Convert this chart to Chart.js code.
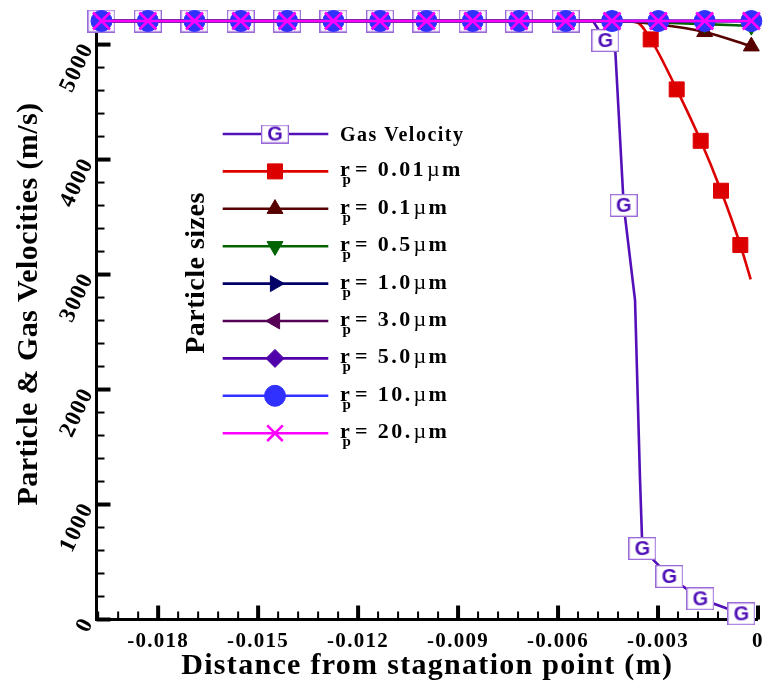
<!DOCTYPE html>
<html><head><meta charset="utf-8">
<script src="https://cdn.jsdelivr.net/npm/chart.js@4.4.0/dist/chart.umd.min.js"></script>
<style>html,body{margin:0;padding:0;background:#fff;}#wrap{width:763px;height:684px;position:relative;}</style>
</head><body><div id="wrap"><canvas id="c" width="763" height="684"></canvas></div>
<script>
// ---------- DATA ----------
const xTickValues = [-0.018, -0.015, -0.012, -0.009, -0.006, -0.003, 0];
const xTickLabels = ['-0.018', '-0.015', '-0.012', '-0.009', '-0.006', '-0.003', '0'];
const yTickValues = [0, 1000, 2000, 3000, 4000, 5000];
const yTickLabels = ['0', '1000', '2000', '3000', '4000', '5000'];
const sizeLabels = ['0.01', '0.1', '0.5', '1.0', '3.0', '5.0', '10.', '20.'];
const xTitle = 'Distance from stagnation point (m)';
const yTitle = 'Particle & Gas Velocities (m/s)';
const legendTitle = 'Particle sizes';

const gridX = [-0.01970, -0.01831, -0.01691, -0.01552, -0.01413, -0.01274, -0.01134, -0.00995,
               -0.00856, -0.00717, -0.00577, -0.00438, -0.00299, -0.00160, -0.00020];

const gasX = [-0.01970, -0.01831, -0.01691, -0.01552, -0.01413, -0.01274, -0.01134, -0.00995,
              -0.00856, -0.00717, -0.00577, -0.00495, -0.00458, -0.00428, -0.00403, -0.00369,
              -0.00354, -0.00347, -0.00266, -0.00173, -0.00050];
const gasY = [5205, 5205, 5205, 5205, 5205, 5205, 5205, 5205, 5205, 5205, 5205, 5205, 5035, 4935,
              3602, 2778, 1213, 617, 374, 180, 50];

const r001X = [-0.01970, -0.01831, -0.01691, -0.01552, -0.01413, -0.01274, -0.01134, -0.00995,
               -0.00856, -0.00717, -0.00577, -0.00438, -0.00366, -0.00322, -0.00244, -0.00172,
               -0.00111, -0.00053, -0.00022];
const r001Y = [5205, 5205, 5205, 5205, 5205, 5205, 5205, 5205, 5205, 5205, 5205, 5205, 5196, 5045,
               4610, 4163, 3729, 3257, 2958];

const r01Y  = [5205, 5205, 5205, 5205, 5205, 5205, 5205, 5205, 5205, 5205, 5205, 5205, 5175, 5110, 4985];
const r05Y  = [5205, 5205, 5205, 5205, 5205, 5205, 5205, 5205, 5205, 5205, 5205, 5205, 5192, 5178, 5162];
const r1Y   = [5205, 5205, 5205, 5205, 5205, 5205, 5205, 5205, 5205, 5205, 5205, 5205, 5205, 5205, 5205];
const r3Y   = [5205, 5205, 5205, 5205, 5205, 5205, 5205, 5205, 5205, 5205, 5205, 5205, 5205, 5205, 5205];
const r5Y   = [5205, 5205, 5205, 5205, 5205, 5205, 5205, 5205, 5205, 5205, 5205, 5205, 5205, 5205, 5205];
const r10Y  = [5205, 5205, 5205, 5205, 5205, 5205, 5205, 5205, 5205, 5205, 5205, 5205, 5205, 5205, 5205];
const r20Y  = [5205, 5205, 5205, 5205, 5205, 5205, 5205, 5205, 5205, 5205, 5205, 5205, 5205, 5205, 5205];

// ---------- STYLE ----------
const SERIF = "'Liberation Serif', 'Times New Roman', serif";
function makeG(w, h) {
  const c = document.createElement('canvas');
  c.width = w; c.height = h;
  const g = c.getContext('2d');
  g.fillStyle = '#fff'; g.fillRect(0, 0, w, h);
  g.strokeStyle = '#9a6ad8'; g.lineWidth = 1.3;
  g.strokeRect(0.65, 0.65, w - 1.3, h - 1.3);
  g.fillStyle = '#5010b8';
  g.font = "bold 20px 'Liberation Sans', Arial, sans-serif";
  g.textAlign = 'center'; g.textBaseline = 'middle';
  g.fillText('G', w / 2, h / 2 + 1);
  return c;
}
const gChart = makeG(28, 23);
const gLegend = makeG(28, 19);

const styles = [
  {color: '#5410b8', point: gChart, r: 12, rot: 0, order: 8, noMark: [11, 13, 15, 16], bw: 1, mono: false},
  {color: '#dd0000', point: 'rect', r: 10.6, rot: 0, order: 7, noMark: [12, 18], bw: 1, mono: true},
  {color: '#560000', point: 'triangle', r: 9.2, rot: 0, order: 6, noMark: [], bw: 1, mono: true},
  {color: '#006400', point: 'triangle', r: 9.2, rot: 180, order: 5, noMark: [], bw: 1, mono: true},
  {color: '#000066', point: 'triangle', r: 9.2, rot: 90, order: 4, noMark: [], bw: 1, mono: false},
  {color: '#550055', point: 'triangle', r: 9.2, rot: -90, order: 3, noMark: [], bw: 1, mono: false},
  {color: '#5000a8', point: 'rectRot', r: 9, rot: 0, order: 2, noMark: [], bw: 1, mono: false},
  {color: '#3030ff', point: 'circle', r: 10.5, rot: 0, order: 1, noMark: [], bw: 1, mono: false},
  {color: '#ff00ff', point: 'crossRot', r: 12, rot: 0, order: 0, noMark: [], bw: 2.6, mono: false}
];

function pts(xs, ys) { return xs.map((v, i) => ({x: v, y: ys[i]})); }
const seriesData = [
  pts(gasX, gasY), pts(r001X, r001Y), pts(gridX, r01Y), pts(gridX, r05Y), pts(gridX, r1Y),
  pts(gridX, r3Y), pts(gridX, r5Y), pts(gridX, r10Y), pts(gridX, r20Y)
];
const datasetLabels = ['Gas Velocity'].concat(sizeLabels.map(s => 'rp = ' + s + 'µm'));

const datasets = seriesData.map((d, i) => {
  const s = styles[i];
  return {
    label: datasetLabels[i],
    data: d,
    borderColor: s.color,
    backgroundColor: s.color,
    borderWidth: 2.6,
    pointStyle: s.point,
    pointRotation: s.rot,
    pointRadius: ctx => s.noMark.includes(ctx.dataIndex) ? 0 : s.r,
    pointBackgroundColor: s.color,
    pointBorderColor: s.color,
    pointBorderWidth: s.bw,
    tension: 0,
    cubicInterpolationMode: s.mono ? 'monotone' : 'default',
    order: s.order,
    clip: false
  };
});

// ---------- PLUGINS ----------
function drawMarker(ctx, style, x, y, r, rot, color, bw) {
  ctx.save();
  ctx.translate(x, y);
  ctx.rotate(rot * Math.PI / 180);
  ctx.fillStyle = color; ctx.strokeStyle = color; ctx.lineWidth = bw;
  ctx.beginPath();
  if (style === 'circle') {
    ctx.arc(0, 0, r, 0, Math.PI * 2);
  } else if (style === 'rect') {
    const s = r / Math.SQRT2; ctx.rect(-s, -s, 2 * s, 2 * s);
  } else if (style === 'triangle') {
    for (let k = 0; k < 3; k++) {
      const a = k * 2 * Math.PI / 3;
      const px = Math.sin(a) * r, py = -Math.cos(a) * r;
      if (k === 0) ctx.moveTo(px, py); else ctx.lineTo(px, py);
    }
    ctx.closePath();
  } else if (style === 'rectRot') {
    ctx.moveTo(0, -r); ctx.lineTo(r, 0); ctx.lineTo(0, r); ctx.lineTo(-r, 0); ctx.closePath();
  } else if (style === 'crossRot') {
    const o = r * Math.SQRT1_2;
    ctx.moveTo(-o, -o); ctx.lineTo(o, o); ctx.moveTo(o, -o); ctx.lineTo(-o, o);
    ctx.stroke(); ctx.restore(); return;
  }
  ctx.fill(); ctx.stroke();
  ctx.restore();
}

const axesPlugin = {
  id: 'axesPlugin',
  beforeDraw(chart) { chart.ctx.letterSpacing = '1.3px'; },
  beforeDatasetsDraw(chart) {
    const {ctx, chartArea: a, scales: {x, y}} = chart;
    ctx.save();
    ctx.fillStyle = '#000';
    ctx.fillRect(a.left - 1.5, a.top - 1, 3, a.bottom - a.top + 2.5);
    ctx.fillRect(a.left - 1.5, a.bottom - 1.5, a.right - a.left + 1.5, 3);
    // x ticks (inward)
    const xs = (xTickValues[1] - xTickValues[0]) / 5;
    for (let j = 0; ; j++) {
      const v = xTickValues[xTickValues.length - 1] - j * xs;
      if (v < x.min - 1e-9) break;
      const p = x.getPixelForValue(v);
      if (j % 5 === 0) ctx.fillRect(p - 2, a.bottom - 14, 4, 14);
      else ctx.fillRect(p - 1, a.bottom - 8, 2, 8);
    }
    // y ticks (inward)
    const ys = (yTickValues[1] - yTickValues[0]) / 5;
    for (let j = 0; ; j++) {
      const v = yTickValues[0] + j * ys;
      if (v > y.max + 1e-9) break;
      const p = y.getPixelForValue(v);
      if (j % 5 === 0) ctx.fillRect(a.left, p - 2, 14, 4);
      else ctx.fillRect(a.left, p - 1, 8, 2);
    }
    ctx.restore();
  },
  afterDraw(chart) {
    const ctx = chart.ctx;
    ctx.save();
    ctx.letterSpacing = '0px';
    const x0 = 222.7, x1 = 328.3, xm = 275, tx = 340;
    const rowY0 = 134, rowStep = 37.4;
    styles.forEach((s, i) => {
      const yy = rowY0 + i * rowStep;
      ctx.strokeStyle = s.color; ctx.lineWidth = 2.6;
      ctx.beginPath(); ctx.moveTo(x0, yy); ctx.lineTo(x1, yy); ctx.stroke();
      if (i === 0) {
        ctx.drawImage(gLegend, xm - gLegend.width / 2, yy - gLegend.height / 2);
      } else {
        drawMarker(ctx, s.point, xm, yy, s.point === 'crossRot' ? 11 : s.r, s.rot, s.color, s.bw);
      }
      ctx.fillStyle = '#000';
      ctx.textAlign = 'left'; ctx.textBaseline = 'alphabetic';
      if (i === 0) {
        ctx.letterSpacing = '1.5px';
        ctx.font = 'bold 20px ' + SERIF;
        ctx.fillText('Gas Velocity', tx, yy + 6.5);
      } else {
        ctx.letterSpacing = '2.4px';
        ctx.font = 'bold 22px ' + SERIF;
        ctx.fillText('r', tx, yy + 5);
        ctx.font = 'bold 15px ' + SERIF;
        ctx.fillText('p', tx + 2.5, yy + 13);
        ctx.font = 'bold 22px ' + SERIF;
        let cx = tx + 15;
        const main = '= ' + sizeLabels[i - 1];
        ctx.fillText(main, cx, yy + 5);
        cx += ctx.measureText(main).width + 1;
        ctx.font = '22px ' + SERIF;
        ctx.fillText('µ', cx, yy + 5);
        cx += ctx.measureText('µ').width;
        ctx.font = 'bold 22px ' + SERIF;
        ctx.fillText('m', cx, yy + 5);
      }
    });
    ctx.restore();

    // legend title (rotated)
    ctx.save();
    ctx.letterSpacing = '0.5px';
    ctx.translate(197, 273);
    ctx.rotate(-Math.PI / 2);
    ctx.font = 'bold 28px ' + SERIF;
    ctx.textAlign = 'center'; ctx.textBaseline = 'middle';
    ctx.fillStyle = '#000';
    ctx.fillText(legendTitle, 0, 0);
    ctx.restore();

    // y axis title (rotated)
    ctx.save();
    ctx.letterSpacing = '0.4px';
    ctx.translate(29, 304);
    ctx.rotate(-Math.PI / 2);
    ctx.font = 'bold 30px ' + SERIF;
    ctx.textAlign = 'center'; ctx.textBaseline = 'middle';
    ctx.fillStyle = '#000';
    ctx.fillText(yTitle, 0, 0);
    ctx.restore();
  }
};

new Chart(document.getElementById('c'), {
  type: 'line',
  data: {datasets},
  options: {
    responsive: false,
    animation: false,
    events: [],
    layout: {autoPadding: false, padding: {left: 0, right: 5, top: 21, bottom: 0}},
    plugins: {legend: {display: false}, tooltip: {enabled: false}},
    scales: {
      x: {
        type: 'linear', min: -0.01985, max: 0,
        grid: {display: false, drawTicks: false}, border: {display: false},
        afterBuildTicks: s => { s.ticks = xTickValues.map(v => ({value: v})); },
        afterFit: s => { s.height = 64.5; s.paddingLeft = 0; s.paddingRight = 0; },
        ticks: {
          autoSkip: false, maxRotation: 0, minRotation: 0, padding: 9.5, color: '#000',
          font: {family: SERIF, size: 21, weight: 'bold'},
          callback: v => xTickLabels[xTickValues.indexOf(v)]
        },
        title: {display: true, text: xTitle, color: '#000',
                font: {family: SERIF, size: 30, weight: 'bold'}, padding: {top: 0, bottom: 0}}
      },
      y: {
        type: 'linear', min: 0, max: 5205,
        grid: {display: false, drawTicks: false}, border: {display: false},
        afterBuildTicks: s => { s.ticks = yTickValues.map(v => ({value: v})); },
        afterFit: s => { s.width = 96.5; s.paddingTop = 0; s.paddingBottom = 0; },
        ticks: {
          autoSkip: false, minRotation: 65, maxRotation: 65, padding: 8.5, color: '#000',
          font: {family: SERIF, size: 23, weight: 'bold'},
          callback: v => yTickLabels[yTickValues.indexOf(v)]
        },
        title: {display: false}
      }
    }
  },
  plugins: [axesPlugin]
});
</script>
</body></html>
